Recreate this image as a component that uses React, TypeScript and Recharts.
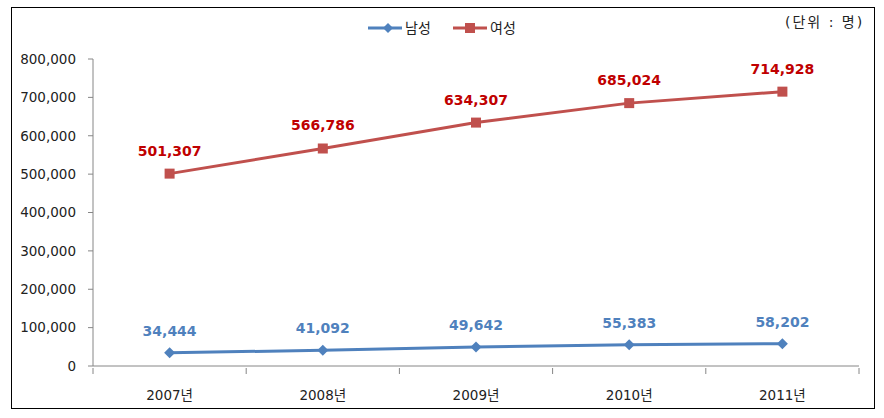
import { LabelList, Line, LineChart, XAxis, YAxis } from "recharts";

const years = ["2007년", "2008년", "2009년", "2010년", "2011년"];
const male = [34444, 41092, 49642, 55383, 58202];
const female = [501307, 566786, 634307, 685024, 714928];
const yTicks = [0, 100000, 200000, 300000, 400000, 500000, 600000, 700000, 800000];

const data = years.map((year, i) => ({ year, male: male[i], female: female[i] }));

const BLUE = "#4F81BD";
const RED = "#C0504D";
const AXIS = "#868686";
const FONT = "'DejaVu Sans', 'Noto Sans CJK KR', sans-serif";
const W = 884;
const H = 418;
const M = { top: 59, right: 25, bottom: 22, left: 13 };
const Y_W = 80;
const BAND = (W - M.left - Y_W - M.right) / years.length;

const fmt = (v: number) => v.toLocaleString("en-US");

function XTick(props: any) {
  const { x, y, payload, index } = props;
  const left = x - BAND / 2;
  return (
    <g>
      <line x1={left} y1={y - 6} x2={left} y2={y} stroke={AXIS} />
      {index === years.length - 1 && (
        <line x1={left + BAND} y1={y - 6} x2={left + BAND} y2={y} stroke={AXIS} />
      )}
      <text x={x} y={y + 26} textAnchor="middle" fontSize={13.5} fill="#222" fontFamily={FONT}>
        {payload.value}
      </text>
    </g>
  );
}

function Diamond(props: any) {
  const { cx, cy } = props;
  if (cx == null || cy == null) return null;
  return <path d={`M${cx},${cy - 5.5}L${cx + 5.5},${cy}L${cx},${cy + 5.5}L${cx - 5.5},${cy}Z`} fill={BLUE} />;
}

function Square(props: any) {
  const { cx, cy } = props;
  if (cx == null || cy == null) return null;
  return <rect x={cx - 5} y={cy - 5} width={10} height={10} fill={RED} />;
}

export default function App() {
  return (
    <div
      style={{
        position: "absolute",
        left: 0,
        top: 0,
        width: W,
        height: H,
        background: "#fff",
        fontFamily: FONT,
      }}
    >
      <div
        style={{
          position: "absolute",
          left: 11,
          top: 7,
          width: 862,
          height: 400,
          border: "1.5px solid #000",
        }}
      />
      <div
        style={{
          position: "absolute",
          left: 785,
          top: 11,
          fontSize: 14,
          letterSpacing: 2,
          color: "#222",
          whiteSpace: "nowrap",
        }}
      >
        (단위 : 명)
      </div>
      <svg style={{ position: "absolute", left: 360, top: 16 }} width={180} height={24}>
        <line x1={8} y1={12} x2={42} y2={12} stroke={BLUE} strokeWidth={3} />
        <path d="M28,7L33,12L28,17L23,12Z" fill={BLUE} />
        <text x={45} y={17} fontSize={14} fill="#222" fontFamily={FONT}>남성</text>
        <line x1={93} y1={12} x2={127} y2={12} stroke={RED} strokeWidth={3} />
        <rect x={105} y={7} width={10} height={10} fill={RED} />
        <text x={130} y={17} fontSize={14} fill="#222" fontFamily={FONT}>여성</text>
      </svg>
      <LineChart width={W} height={H} data={data} margin={M} style={{ position: "absolute", left: 0, top: 0 }}>
        <XAxis
          dataKey="year"
          stroke={AXIS}
          tickLine={false}
          tick={<XTick />}
          height={30}
          interval={0}
          padding={{ left: BAND / 2, right: BAND / 2 }}
        />
        <YAxis
          width={Y_W}
          domain={[0, 800000]}
          ticks={yTicks}
          tickFormatter={fmt}
          stroke={AXIS}
          tickSize={5}
          tickMargin={12}
          tick={{ fill: "#222", fontSize: 13.5, fontFamily: FONT }}
          interval={0}
        />
        <Line
          dataKey="female"
          stroke={RED}
          strokeWidth={3}
          dot={<Square />}
          activeDot={false}
          isAnimationActive={false}
        >
          <LabelList
            dataKey="female"
            position="top"
            offset={18}
            formatter={(v: any) => fmt(Number(v))}
            fill="#C00000"
            fontSize={14}
            fontWeight="bold"
            fontFamily={FONT}
          />
        </Line>
        <Line
          dataKey="male"
          stroke={BLUE}
          strokeWidth={3}
          dot={<Diamond />}
          activeDot={false}
          isAnimationActive={false}
        >
          <LabelList
            dataKey="male"
            position="top"
            offset={17}
            formatter={(v: any) => fmt(Number(v))}
            fill={BLUE}
            fontSize={14}
            fontWeight="bold"
            fontFamily={FONT}
          />
        </Line>
      </LineChart>
    </div>
  );
}
